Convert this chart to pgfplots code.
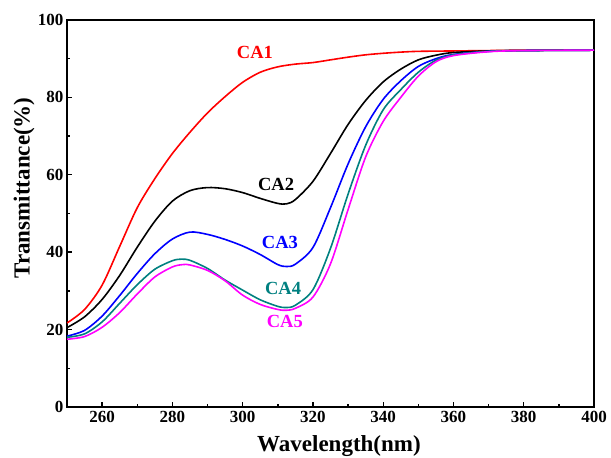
\documentclass[border=0pt]{standalone}
\usepackage{fontspec}
\setmainfont{Liberation Serif}
\usepackage{pgfplots}
\pgfplotsset{compat=1.18}
\definecolor{cteal}{RGB}{0,128,128}
\definecolor{cmag}{RGB}{255,0,255}
\begin{document}
\begin{tikzpicture}
\begin{axis}[
  width=527pt, height=387pt, scale only axis,
  xmin=250, xmax=400, ymin=0, ymax=100,
  xtick={260,280,...,400}, ytick={0,20,...,100},
  minor x tick num=1, minor y tick num=1,
  xtick pos=left, ytick pos=left,
  tick align=inside,
  major tick length=5pt, minor tick length=3pt,
  axis line style={line width=1.6pt},
  every tick/.style={line width=1.4pt, black},
  /pgf/number format/assume math mode=true,
  tick label style={font=\fontsize{17}{17}\selectfont\bfseries},
  label style={font=\fontsize{23}{23}\selectfont\bfseries},
  xlabel={Wavelength(nm)},
  ylabel={Transmittance(\%)},
  xticklabel style={yshift=-1pt},
  xlabel style={at={(axis description cs:0.516,-0.114)}, anchor=base},
  ylabel style={at={(axis description cs:-0.0816,0.566)}, anchor=center},
  every axis plot/.append style={line width=1.6pt, smooth},
  clip=true,
]
\addplot[red] coordinates {
(250,21.7) (255,25.2) (260,31.5) (265,41.5) (270,51.5) (275,59.0) (280,65.5)
(285,71.0) (290,76.0) (295,80.2) (300,83.9) (305,86.5) (310,87.9) (315,88.6)
(320,89.0) (325,89.7) (330,90.4) (335,91.0) (340,91.4) (345,91.7) (350,91.9)
(360,92.0) (370,92.1) (380,92.2) (400,92.2)};
\addplot[black] coordinates {
(250,20.5) (255,23.3) (260,27.8) (265,34.0) (270,41.3) (275,48.0) (280,53.2)
(285,55.9) (290,56.7) (295,56.4) (300,55.4) (305,53.9) (310,52.6) (312.5,52.5)
(315,53.6) (320,58.3) (325,65.5) (330,73.0) (335,79.2) (340,84.0) (345,87.3)
(350,89.7) (355,90.9) (360,91.6) (370,92.0) (380,92.1) (400,92.2)};
\addplot[blue] coordinates {
(250,18.3) (255,19.8) (260,23.5) (265,28.8) (270,34.5) (275,39.6) (280,43.4)
(285,45.2) (290,44.6) (295,43.3) (300,41.6) (305,39.4) (310,36.8) (312.5,36.3)
(315,36.9) (320,41.2) (325,51.5) (330,62.8) (335,72.4) (340,79.5) (345,84.3)
(350,88.0) (355,90.0) (360,91.1) (370,91.9) (380,92.1) (400,92.2)};
\addplot[cteal] coordinates {
(250,18.0) (255,18.9) (260,22.0) (265,26.8) (270,31.6) (275,35.6) (280,37.8)
(282.5,38.2) (285,37.9) (290,35.8) (295,32.8) (300,30.2) (305,27.7) (310,26.0)
(312.5,25.7) (315,26.3) (320,30.3) (325,41.0) (330,55.0) (335,67.6) (340,76.8)
(345,82.0) (350,86.5) (355,89.6) (360,91.0) (370,91.9) (380,92.1) (400,92.2)};
\addplot[cmag] coordinates {
(250,17.5) (255,18.2) (260,20.6) (265,24.4) (270,29.2) (275,33.6) (280,36.2)
(283,36.8) (285,36.7) (290,35.3) (295,32.6) (300,28.9) (305,26.5) (310,25.2)
(312.5,25.0) (315,25.5) (320,28.4) (325,37.0) (330,51.0) (335,64.6) (340,73.8)
(345,80.0) (350,85.5) (355,89.2) (360,90.8) (370,91.8) (380,92.1) (400,92.2)};
\node[red, font=\fontsize{18.5}{18.5}\selectfont\bfseries] at (axis cs:303.5,91.5) {CA1};
\node[black, font=\fontsize{18.5}{18.5}\selectfont\bfseries] at (axis cs:309.5,57.6) {CA2};
\node[blue, font=\fontsize{18.5}{18.5}\selectfont\bfseries] at (axis cs:310.6,42.4) {CA3};
\node[cteal, font=\fontsize{18.5}{18.5}\selectfont\bfseries] at (axis cs:311.5,30.7) {CA4};
\node[cmag, font=\fontsize{18.5}{18.5}\selectfont\bfseries] at (axis cs:312,22) {CA5};
\end{axis}
\pgfresetboundingbox
\path[use as bounding box] ([shift={(-67pt,-51pt)}]current axis.south west) rectangle ([shift={(17pt,20pt)}]current axis.north east);
\end{tikzpicture}
\end{document}
